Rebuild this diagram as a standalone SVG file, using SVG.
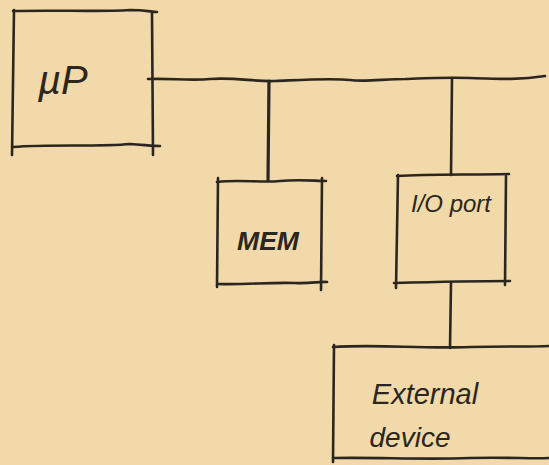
<svg xmlns="http://www.w3.org/2000/svg" width="549" height="465" viewBox="0 0 549 465">
<style>
.ln{fill:none;stroke:#2b2620;stroke-width:2.6;stroke-linecap:round;stroke-linejoin:round}
.tx{font-family:"Liberation Sans","DejaVu Sans",sans-serif;fill:#2b2620;font-style:italic}
</style>
<rect width="549" height="465" fill="#f1d9a9"/>
<g id="connectors">
<path class="ln" d="M148,79 C170,78 190,81 210,79 C235,77 255,82 275,81 C300,80 330,78 350,80 C365,82 385,79 405,79 C430,78 450,77 470,78 C500,79 520,80 545,76"/>
<path class="ln" d="M269,81 L268,180" style="stroke-width:3.2"/>
<path class="ln" d="M452,78 L451,175"/>
<path class="ln" d="M451,283 L450,348"/>
</g>
<g id="node-mp">
<path class="ln" d="M13,11 C60,10 100,12 130,10 C145,10 152,12 157,12"/>
<path class="ln" d="M14,10 L12,155"/>
<path class="ln" d="M152,12 L153,155"/>
<path class="ln" d="M13,147 C50,144 100,147 130,144 C145,145 155,146 160,146"/>
<text class="tx" x="38" y="94" font-size="40">µP</text>
</g>
<g id="node-mem">
<path class="ln" d="M217,182 C240,179 260,183 280,181 C300,179 315,181 326,181"/>
<path class="ln" d="M218,178 L217,287"/>
<path class="ln" d="M322,178 L321,290"/>
<path class="ln" d="M218,284 C245,285 270,282 295,283 C310,284 320,281 327,282"/>
<text class="tx" x="268" y="250" font-size="26" text-anchor="middle" font-weight="bold" textLength="62" lengthAdjust="spacingAndGlyphs">MEM</text>
</g>
<g id="node-io">
<path class="ln" d="M397,176 C430,174 470,175 509,174"/>
<path class="ln" d="M398,175 L396,288"/>
<path class="ln" d="M506,176 L505,285"/>
<path class="ln" d="M394,283 C430,282 470,281 510,281"/>
<text class="tx" x="451" y="212" font-size="24" text-anchor="middle">I/O port</text>
</g>
<g id="node-ext">
<path class="ln" d="M333,347 C380,344 420,349 470,347 C510,346 530,347 549,346"/>
<path class="ln" d="M334,345 L333,462"/>
<path class="ln" d="M333,458 C380,457 420,460 470,458 C510,457 530,459 549,458"/>
<text class="tx" x="425" y="404" font-size="29" text-anchor="middle">External</text>
<text class="tx" x="410" y="447" font-size="28" text-anchor="middle">device</text>
</g>
</svg>
